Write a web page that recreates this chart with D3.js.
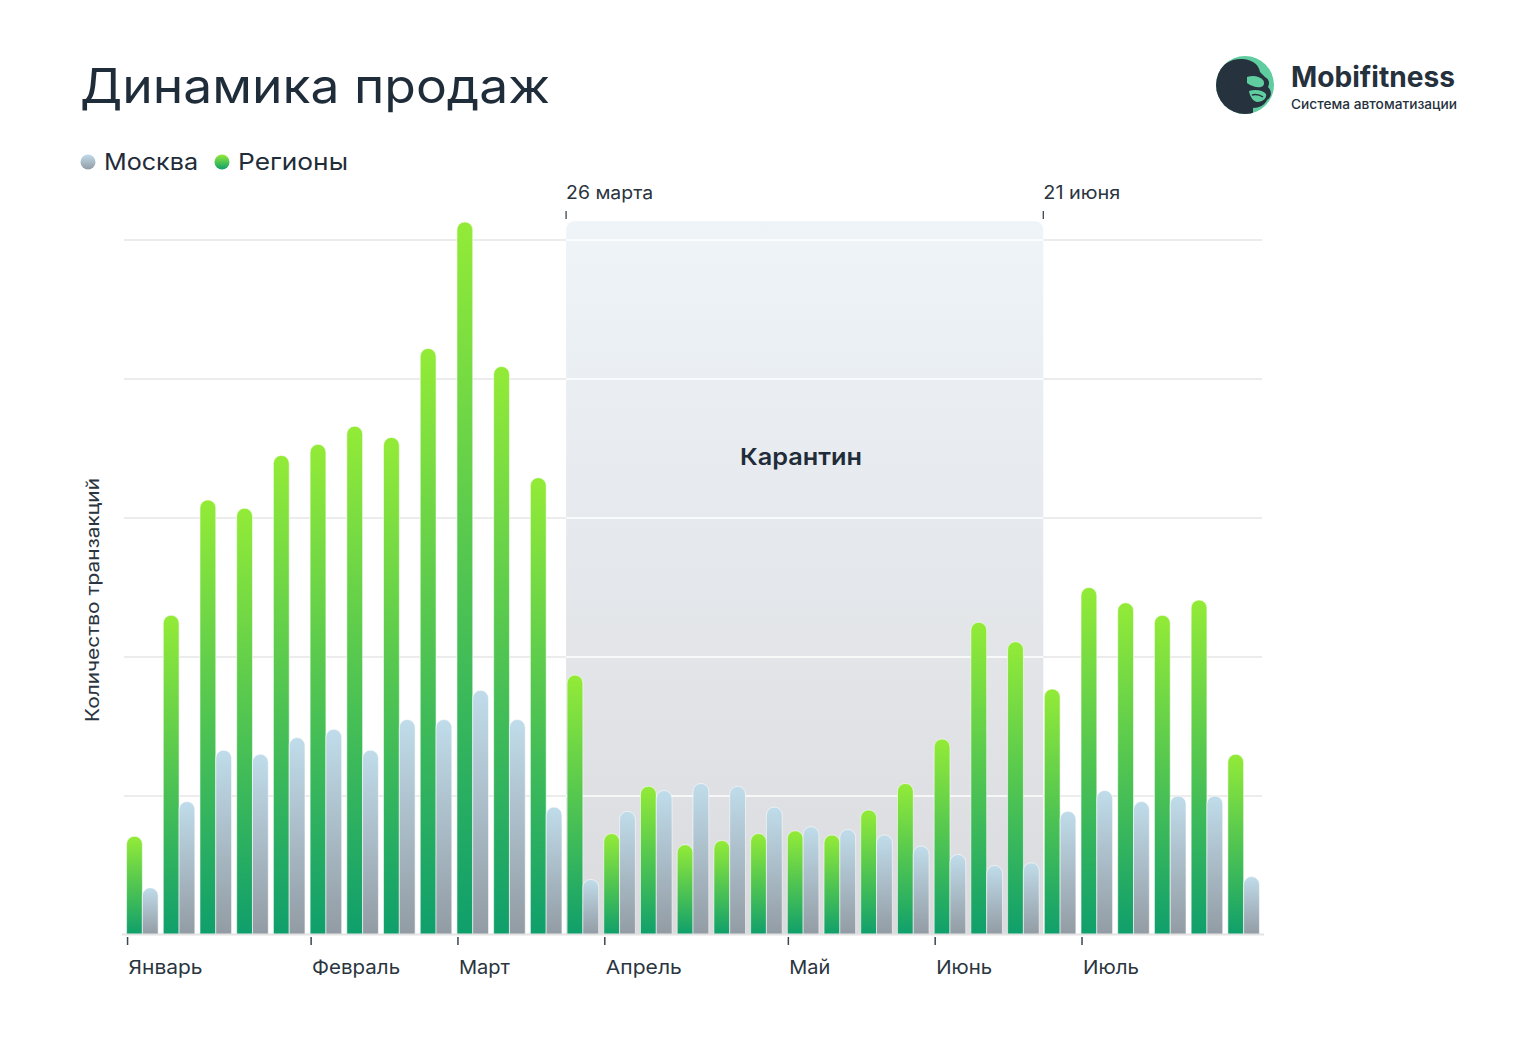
<!DOCTYPE html>
<html><head><meta charset="utf-8">
<script src="https://cdn.jsdelivr.net/npm/d3@7"></script>
<style>body{margin:0;background:#fff;} svg{display:block;font-family:Inter,'Noto Sans',sans-serif;}</style>
</head><body><svg id="c" width="1536" height="1044"></svg>
<script>
// ---- data ----
const weeks = d3.range(1, 32).map(String);
const regions = [71,230,313,307,345,353,366,358,422,513,409,329,187,73,107,65,68,73,75,72,90,109,141,225,211,177,250,239,230,241,130];
const moscow  = [34,96,133,130,142,148,133,155,155,176,155,92,40,89,104,109,107,92,78,76,72,64,58,50,52,89,104,96,100,100,42];
const seriesKeys = ["regions","moscow"];
const gridValues = [100,200,300,400,500];
const monthLabels = ["Январь","Февраль","Март","Апрель","Май","Июнь","Июль"];
const monthStartWeek = ["1","6","10","14","19","23","27"];
const quarantineLabels = ["26 марта","21 июня"];
const quarantineWeeks = ["13","26"];
const quarantineTitle = "Карантин";

// text widths to mimic the reference's wide geometric face
const monthWidths = [74,88,51,76,41,56,56];
const quarantineLabelWidths = [87,77];

const svg = d3.select('#c');
const ink = '#1f2c39';

function fit(sel, w){ return sel.attr('textLength', w).attr('lengthAdjust','spacingAndGlyphs'); }

// ---- defs ----
const defs = svg.append('defs');
function grad(id, c1, c2, user, y1, y2){
  const g = defs.append('linearGradient').attr('id', id).attr('x1',0).attr('x2',0);
  if(user){ g.attr('gradientUnits','userSpaceOnUse').attr('y1',y1).attr('y2',y2); }
  else { g.attr('y1',0).attr('y2',1); }
  g.append('stop').attr('offset','0%').attr('stop-color',c1);
  g.append('stop').attr('offset','100%').attr('stop-color',c2);
}
grad('gGreen','#93eb37','#0f9f6c');
grad('gBlue','#c0dcea','#929ba3');
grad('gQuar','#eef4f8','#dbdbde', true, 220, 935);

// ---- scales ----
const x = d3.scaleBand().domain(weeks).range([124,1262]).paddingInner(0.14).paddingOuter(0.07);
const xs = d3.scaleBand().domain(seriesKeys).range([0, x.bandwidth()]);
const y = d3.scaleLinear().domain([0,500]).range([935,240]);

// ---- title & legend ----
fit(svg.append('text').attr('x',80).attr('y',103).attr('font-size',48).attr('fill',ink).attr('font-weight',400)
  .text('Динамика продаж'), 470);

const legend = [{name:'Москва', fill:'url(#gBlue)', cx:88, w:94},{name:'Регионы', fill:'url(#gGreen)', cx:222, w:110}];
legend.forEach(d=>{
  svg.append('circle').attr('cx',d.cx).attr('cy',162).attr('r',7.5).attr('fill',d.fill);
  fit(svg.append('text').attr('x',d.cx+16).attr('y',170).attr('font-size',23).attr('fill',ink).text(d.name), d.w);
});

// ---- logo ----
const logo = svg.append('g').attr('transform','translate(1245,85)');
defs.append('clipPath').attr('id','logoClip').append('circle').attr('r',29);
logo.append('circle').attr('r',29).attr('fill','#5fcd9f');
const lg = logo.append('g').attr('clip-path','url(#logoClip)');
lg.append('path').attr('fill','#26323e')
  .attr('d','M-30,-6 C-26,-20 -14,-27 -2,-26 C8,-25 14,-20 15,-13 L20,-8 C24,-6 25,-2 23,2 C27,6 27,12 22,15 C20,20 14,23 8,23 L8,30 L-30,30 Z');
lg.append('path').attr('fill','#5fcd9f')
  .attr('d','M2,-8 C8,-10 14,-9 18,-5 C20,-2 19,1 16,2 C12,3 6,1 2,-2 Z');
lg.append('path').attr('fill','#5fcd9f')
  .attr('d','M4,6 C10,4 18,5 21,9 C22,13 18,17 12,17 C8,16 5,12 4,6 Z');
lg.append('path').attr('fill','none').attr('stroke','#26323e').attr('stroke-width',1.5)
  .attr('d','M7,10 C11,9 15,10 18,12');
fit(svg.append('text').attr('x',1291).attr('y',87).attr('font-size',28).attr('font-weight',700).attr('fill','#25313d').text('Mobifitness'), 164);
fit(svg.append('text').attr('x',1291).attr('y',109).attr('font-size',13).attr('font-weight',500).attr('fill','#25313d').text('Система автоматизации'), 166);

// ---- grid ----
svg.append('g').selectAll('line').data(gridValues).join('line')
  .attr('x1',124).attr('x2',1262).attr('y1',d=>y(d)).attr('y2',d=>y(d))
  .attr('stroke','#e6e6e6').attr('stroke-width',1.5);

// ---- quarantine box ----
const qx0 = x(quarantineWeeks[0]) - 1, qx1 = x(quarantineWeeks[1]) - 1;
const qTop = y(500) - 19, qBot = y(0), rr = 10;
svg.append('path').attr('fill','url(#gQuar)')
  .attr('d',`M${qx0},${qBot} L${qx0},${qTop+rr} Q${qx0},${qTop} ${qx0+rr},${qTop} L${qx1-rr},${qTop} Q${qx1},${qTop} ${qx1},${qTop+rr} L${qx1},${qBot} Z`);
svg.append('g').selectAll('line').data(gridValues).join('line')
  .attr('x1',qx0).attr('x2',qx1).attr('y1',d=>y(d)).attr('y2',d=>y(d))
  .attr('stroke','#ffffff').attr('stroke-width',1.5);
fit(svg.append('text').attr('x',740).attr('y',465)
  .attr('font-size',23).attr('font-weight',600).attr('fill',ink).text(quarantineTitle), 122);
quarantineWeeks.forEach((w,i)=>{
  const xx = x(w) - 1;
  svg.append('line').attr('x1',xx).attr('x2',xx).attr('y1',211).attr('y2',219).attr('stroke','#3a4550').attr('stroke-width',1.3);
  fit(svg.append('text').attr('x',xx).attr('y',199).attr('font-size',18).attr('fill','#2a3540').text(quarantineLabels[i]), quarantineLabelWidths[i]);
});

// ---- bars ----
function barPath(bx, top, w, base){
  const r = Math.min(w/2, (base-top));
  return `M${bx},${base} L${bx},${top+r} A${r},${r} 0 0 1 ${bx+w},${top+r} L${bx+w},${base} Z`;
}
const data = weeks.map((w,i)=>({w, regions:regions[i], moscow:moscow[i]}));
const gWeeks = svg.append('g').selectAll('g').data(data).join('g').attr('transform',d=>`translate(${x(d.w)},0)`);
gWeeks.selectAll('path').data(d=>seriesKeys.map(k=>({k, v:d[k]}))).join('path')
  .attr('d',d=>barPath(xs(d.k), y(d.v), xs.bandwidth(), y(0)))
  .attr('fill',d=>d.k==='regions'?'url(#gGreen)':'url(#gBlue)')
  .attr('stroke','rgba(255,255,255,0.7)').attr('stroke-width',0.8);

// ---- x axis ----
svg.append('line').attr('x1',122).attr('x2',1264).attr('y1',934.5).attr('y2',934.5).attr('stroke','#e3e3e3').attr('stroke-width',2);
monthStartWeek.forEach((w,i)=>{
  const xx = x(w) + 1;
  svg.append('line').attr('x1',xx).attr('x2',xx).attr('y1',937).attr('y2',945).attr('stroke','#3a4550').attr('stroke-width',1.5);
  fit(svg.append('text').attr('x',xx+1).attr('y',974).attr('font-size',19).attr('fill','#2a3540').text(monthLabels[i]), monthWidths[i]);
});

// ---- y label ----
fit(svg.append('text').attr('transform','translate(99,600) rotate(-90)').attr('text-anchor','middle')
  .attr('font-size',18).attr('fill','#2a3540').text('Количество транзакций'), 244);
</script></body></html>
